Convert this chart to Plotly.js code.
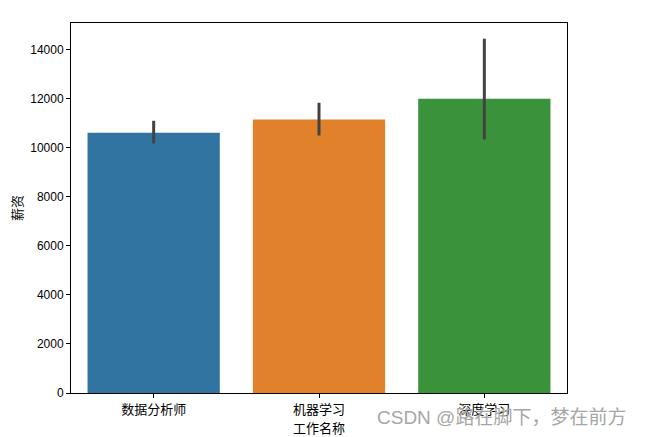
<!DOCTYPE html>
<html>
<head>
<meta charset="utf-8">
<script src="https://cdn.plot.ly/plotly-3.0.1.min.js"></script>
<style>
  html, body { margin: 0; padding: 0; background: #fff; }
  #chart { width: 645px; height: 437px; }
</style>
</head>
<body>
<div id="chart"></div>
<script>
'use strict';

// job titles and their mean salary, with the error bar ends
const jobs = ['数据分析师', '机器学习', '深度学习'];
const salary = [10612, 11155, 12000];
const ciHigh = [11102, 11837, 14449];
const ciLow = [10176, 10502, 10339];
const barColors = ['#3274a1', '#e1812c', '#3a923a'];
const yTicks = [0, 2000, 4000, 6000, 8000, 10000, 12000, 14000];

const cjk = 'Noto Sans CJK SC, DejaVu Sans, sans-serif';
const latin = 'Liberation Sans, Noto Sans CJK SC, sans-serif';

const trace = {
	type: 'bar',
	x: jobs,
	y: salary,
	width: 0.8,
	marker: {color: barColors, line: {width: 0}},
	error_y: {
		type: 'data',
		symmetric: false,
		array: ciHigh.map(function(v, i) { return v - salary[i]; }),
		arrayminus: salary.map(function(v, i) { return v - ciLow[i]; }),
		color: '#424242',
		thickness: 3,
		width: 0
	},
	hoverinfo: 'none'
};

const layout = {
	width: 645,
	height: 437,
	margin: {l: 71, r: 78, t: 23, b: 44},
	paper_bgcolor: '#fff',
	plot_bgcolor: '#fff',
	showlegend: false,
	font: {family: cjk, size: 13, color: '#000'},
	xaxis: {
		range: [-0.5, 2.5],
		showgrid: false,
		zeroline: false,
		showline: true,
		mirror: true,
		linecolor: '#000',
		linewidth: 1,
		ticks: 'outside',
		ticklen: 4,
		tickcolor: '#000',
		tickfont: {family: cjk, size: 13, color: '#000'},
		title: {text: '工作名称', font: {family: cjk, size: 13, color: '#000'}, standoff: 0}
	},
	yaxis: {
		range: [0, 15090],
		tickvals: yTicks,
		ticktext: yTicks.map(String),
		showgrid: false,
		zeroline: false,
		showline: true,
		mirror: true,
		linecolor: '#000',
		linewidth: 1,
		ticks: 'outside',
		ticklen: 4,
		tickcolor: '#000',
		tickfont: {family: latin, size: 12, color: '#000'},
		title: {text: '薪资', font: {family: cjk, size: 13, color: '#000'}, standoff: 4}
	},
	annotations: [{
		text: 'CSDN @路在脚下，梦在前方',
		xref: 'paper', yref: 'paper',
		x: 1.123, y: -0.065,
		xanchor: 'right', yanchor: 'middle',
		showarrow: false,
		font: {family: latin, size: 19, color: '#a6a6a6'}
	}]
};

Plotly.newPlot('chart', [trace], layout, {staticPlot: true, displayModeBar: false});
</script>
</body>
</html>
